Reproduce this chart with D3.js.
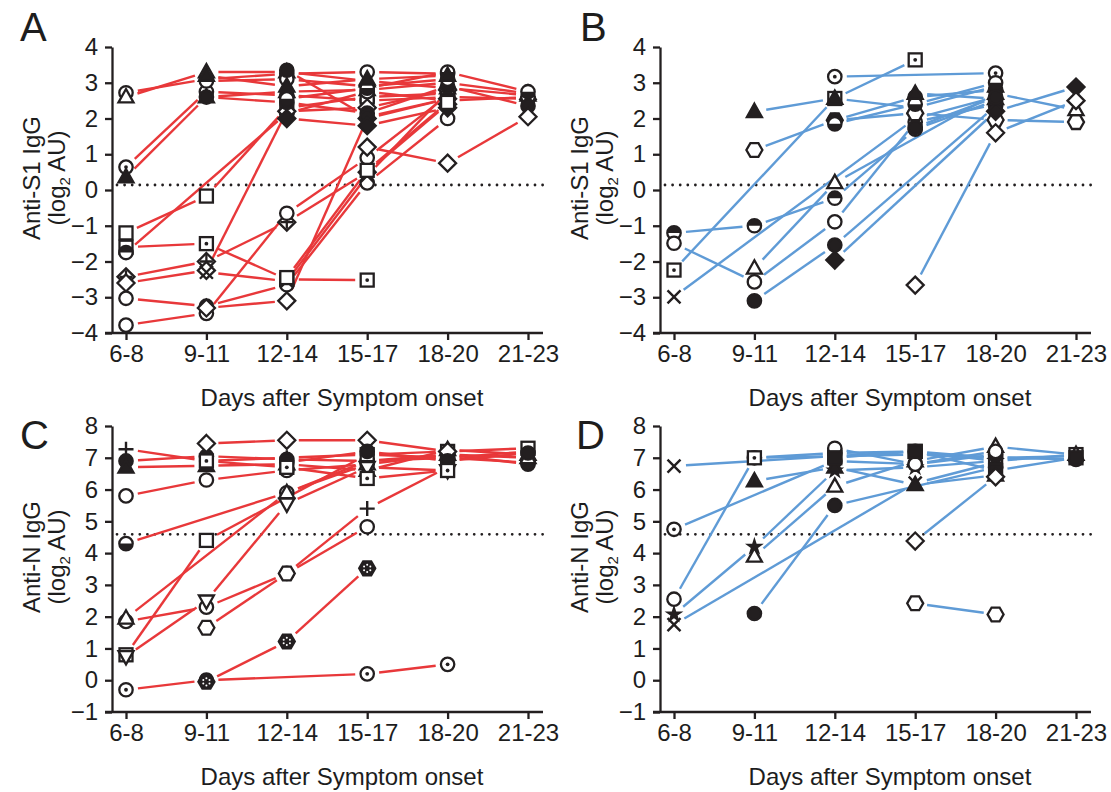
<!DOCTYPE html>
<html>
<head>
<meta charset="utf-8">
<script src="https://cdn.jsdelivr.net/npm/d3@7"></script>
<style>
  body { margin: 0; background: #fff; }
  svg text { font-family: "Liberation Sans", Arial, sans-serif; fill: #1d1d1d; }
</style>
</head>
<body>
<svg id="fig" width="1111" height="792"></svg>
<script>
/* categories and ticks */
const days = ["6-8", "9-11", "12-14", "15-17", "18-20", "21-23"];
const s1_ticks = [-4, -3, -2, -1, 0, 1, 2, 3, 4];
const n_ticks = [-1, 0, 1, 2, 3, 4, 5, 6, 7, 8];
const s1_cutoff = 0.14;
const n_cutoff = 4.59;

/* panel A : anti-S1, one row per subject (null = not sampled) */
const a_markers = ["circle", "tri", "circleDot", "triF", "sq", "sqDot", "circleHalfT", "crossDia",
  "dia", "circle", "circle", "circleF", "circle", "x", "dia", "circleF", "diaF", "circleHalfB",
  "triF", "dia", "sq"];
const a_values = [
  [2.72, 3.1, 3.25, 3.3, 3.25, null],
  [2.6, 3.3, 3.3, 3.05, 2.85, 2.65],
  [0.64, 2.75, 2.65, 2.5, 2.6, 2.55],
  [0.36, 2.6, 2.75, 2.8, 3.0, 2.7],
  [-1.2, -0.17, 2.3, 2.6, 2.7, null],
  [-1.6, -1.5, -2.5, -2.52, null, null],
  [-1.75, null, 2.15, 2.75, 2.5, 2.6],
  [-2.43, -2.0, -0.9, 0.5, 2.4, null],
  [-2.6, -2.25, 2.2, 2.3, 2.8, null],
  [-3.03, -3.25, -2.65, 0.2, 2.0, null],
  [-3.78, -3.45, -0.65, 0.9, 2.65, null],
  [null, 2.6, 2.45, 2.15, 2.9, 2.35],
  [null, 3.05, 3.1, 2.9, 3.1, null],
  [null, -2.3, -2.55, 0.4, 2.75, null],
  [null, -3.3, -3.1, 2.0, 2.55, null],
  [null, null, 3.35, 2.05, 2.55, null],
  [null, null, 2.0, 1.8, 2.3, null],
  [null, null, 2.55, 2.85, 3.3, 2.75],
  [null, 3.2, 2.9, 3.1, 3.2, null],
  [null, null, null, 1.2, 0.75, 2.05],
  [null, null, -2.45, 0.55, 2.45, null]
];

/* panel B : anti-S1 */
const b_markers = ["circleHalfT", "sqDot", "circle", "x", "triF", "hex", "tri", "circleF", "circleDot",
  "circleF", "circleHalfB", "diaF", "dia", "triF", "circleF"];
const b_values = [
  [-1.2, -1.0, -0.23, 1.7, 2.5, null],
  [-2.24, null, 2.56, 3.64, null, null],
  [-1.49, -2.57, -0.89, 1.9, 2.4, null],
  [-2.99, null, null, 2.0, 2.6, null],
  [null, 2.19, 2.56, 2.3, 2.9, null],
  [null, 1.12, 1.95, 2.15, 1.96, 1.9],
  [null, -2.19, 0.2, null, 2.7, 2.24],
  [null, -3.1, -1.54, null, 2.35, null],
  [null, null, 3.17, null, 3.27, null],
  [null, null, 1.95, 2.6, 2.8, null],
  [null, null, 1.85, 2.4, 3.0, null],
  [null, null, -1.96, null, 2.2, 2.88],
  [null, null, null, -2.66, 1.6, 2.5],
  [null, null, null, 2.7, 2.55, null],
  [null, null, null, 1.75, 2.6, null]
];

/* panel C : anti-N */
const c_markers = ["plus", "circleF", "triF", "circle", "circleHalfB", "plus", "circle", "tri", "sq",
  "triD", "circleDot", "hexAst", "hex", "dia", "circleF", "sqDot"];
const c_values = [
  [7.27, 6.9, 7.0, 7.1, 7.0, 7.2],
  [6.9, 7.05, 6.95, 6.9, 7.1, 6.8],
  [6.7, 6.75, 6.8, 6.6, 7.25, 7.1],
  [5.8, 6.3, 6.6, 6.8, null, null],
  [4.3, null, 5.9, 6.9, 7.0, 6.85],
  [null, null, 3.36, 5.4, 6.7, null],
  [1.85, 2.3, 3.36, 4.83, null, null],
  [1.95, null, 5.9, 6.8, 7.1, 7.0],
  [0.8, 4.4, null, 7.1, 7.2, 7.3],
  [0.75, 2.5, 5.55, 6.7, 6.6, null],
  [-0.3, 0.0, null, 0.2, 0.5, null],
  [null, -0.05, 1.22, 3.52, null, null],
  [null, 1.65, 3.36, null, null, null],
  [null, 7.45, 7.55, 7.55, 7.2, null],
  [null, null, 6.85, 7.2, 6.9, 7.15],
  [null, 6.9, 6.7, 6.35, 6.6, null]
];

/* panel D : anti-N */
const d_markers = ["x", "circleDot", "circle", "sqDot", "star", "x", "triF", "tri", "circleF",
  "circle", "sqF", "dia", "hex"];
const d_values = [
  [6.74, null, 7.05, 7.1, 7.0, 7.05],
  [4.75, null, 6.9, 6.8, 7.1, null],
  [2.55, 7.0, 7.15, 7.2, 7.0, 6.95],
  [null, 7.0, 7.05, 7.2, 6.9, 7.1],
  [2.07, 4.2, 6.6, 6.7, 6.9, null],
  [1.75, null, null, 6.2, 6.85, null],
  [null, 6.27, 6.7, 6.15, 6.45, null],
  [null, 3.9, 6.1, 6.9, 7.35, 7.1],
  [null, 2.1, 5.5, null, 6.7, null],
  [null, null, 7.3, 6.8, 7.2, null],
  [null, null, 7.0, 7.2, 6.6, 7.0],
  [null, null, null, 4.38, 6.4, null],
  [null, null, null, 2.42, 2.07, null]
];

/* display parameters */
const red = "#e8383a",
  blue = "#5f9bd6",
  ink = "#231f20",
  font_size = 24,
  sw = 2.3, // marker outline
  gap = 12; // lines stop short of the markers

const svg = d3.select("#fig");

const panels = [
  { letter: "A", lx: 20, ly: 41, left: 112, top: 47, bottom: 333, markers: a_markers, values: a_values,
    color: red, ticks: s1_ticks, cutoff: s1_cutoff, title: "Anti-S1 IgG" },
  { letter: "B", lx: 580, ly: 41, left: 660, top: 47, bottom: 333, markers: b_markers, values: b_values,
    color: blue, ticks: s1_ticks, cutoff: s1_cutoff, title: "Anti-S1 IgG" },
  { letter: "C", lx: 20, ly: 449, left: 112, top: 426, bottom: 712, markers: c_markers, values: c_values,
    color: red, ticks: n_ticks, cutoff: n_cutoff, title: "Anti-N IgG" },
  { letter: "D", lx: 576, ly: 449, left: 660, top: 426, bottom: 712, markers: d_markers, values: d_values,
    color: blue, ticks: n_ticks, cutoff: n_cutoff, title: "Anti-N IgG" }
];

function draw_marker(g, type, cx, cy) {
  let m = g.append("g").attr("transform", "translate(" + cx + "," + cy + ")");
  const open = el => el.attr("fill", "#fff").attr("stroke", ink).attr("stroke-width", sw);
  const full = el => el.attr("fill", ink).attr("stroke", ink).attr("stroke-width", sw);
  const dot = () => m.append("circle").attr("r", 1.9).attr("fill", ink);
  const hex = "M8,0L4,6.9L-4,6.9L-8,0L-4,-6.9L4,-6.9Z";
  const r = 6.7;

  if (type === "circle") open(m.append("circle").attr("r", r));
  else if (type === "circleF") full(m.append("circle").attr("r", r));
  else if (type === "circleDot") { open(m.append("circle").attr("r", r)); dot(); }
  else if (type === "circleHalfT" || type === "circleHalfB") {
    open(m.append("circle").attr("r", r));
    m.append("path")
      .attr("d", type === "circleHalfT" ? "M-6.7,0A6.7,6.7 0 0,1 6.7,0Z" : "M-6.7,0A6.7,6.7 0 0,0 6.7,0Z")
      .attr("fill", ink);
  }
  else if (type === "tri") open(m.append("path").attr("d", "M0,-8L7.5,5.3L-7.5,5.3Z"));
  else if (type === "triF") full(m.append("path").attr("d", "M0,-8L7.5,5.3L-7.5,5.3Z"));
  else if (type === "triD") open(m.append("path").attr("d", "M0,8L7.5,-5.3L-7.5,-5.3Z"));
  else if (type === "sq") open(m.append("rect").attr("x", -6.5).attr("y", -6.5).attr("width", 13).attr("height", 13));
  else if (type === "sqF") full(m.append("rect").attr("x", -6.5).attr("y", -6.5).attr("width", 13).attr("height", 13));
  else if (type === "sqDot") {
    open(m.append("rect").attr("x", -6.5).attr("y", -6.5).attr("width", 13).attr("height", 13));
    dot();
  }
  else if (type === "dia") open(m.append("path").attr("d", "M0,-8.5L8.5,0L0,8.5L-8.5,0Z"));
  else if (type === "diaF") full(m.append("path").attr("d", "M0,-8.5L8.5,0L0,8.5L-8.5,0Z"));
  else if (type === "crossDia") {
    open(m.append("path").attr("d", "M0,-8.5L8.5,0L0,8.5L-8.5,0Z"));
    m.append("path").attr("d", "M0,-6.5V6.5M-6.5,0H6.5").attr("stroke", ink).attr("stroke-width", sw);
  }
  else if (type === "hex") open(m.append("path").attr("d", hex));
  else if (type === "hexAst") {
    full(m.append("path").attr("d", hex));
    d3.range(6).forEach(i => {
      let a = (i * Math.PI) / 3 + Math.PI / 6;
      m.append("circle").attr("cx", 3.6 * Math.cos(a)).attr("cy", 3.6 * Math.sin(a))
        .attr("r", 1).attr("fill", "#fff");
    });
  }
  else if (type === "x") m.append("path").attr("d", "M-6.5,-6.5L6.5,6.5M-6.5,6.5L6.5,-6.5").attr("stroke", ink).attr("stroke-width", 2.4);
  else if (type === "plus") m.append("path").attr("d", "M0,-7.5V7.5M-7.5,0H7.5").attr("stroke", ink).attr("stroke-width", 2.4);
  else if (type === "star") m.append("path").attr("d", d3.symbol(d3.symbolStar, 110)()).attr("fill", ink);
}

function draw_panel(p) {
  let x = d3.scalePoint().domain(days).range([p.left + 14, p.left + 416]),
    y = d3.scaleLinear().domain(d3.extent(p.ticks)).range([p.bottom, p.top]);

  let g = svg.append("g");

  /* cut-off line */
  g.append("line")
    .attr("x1", p.left + 5).attr("x2", p.left + 431)
    .attr("y1", y(p.cutoff)).attr("y2", y(p.cutoff))
    .attr("stroke", ink).attr("stroke-width", 2.8)
    .attr("stroke-linecap", "round").attr("stroke-dasharray", "0 7.6");

  /* subject lines, shortened at both ends */
  p.values.forEach(row => {
    let pts = row.map((v, i) => (v === null ? null : [x(days[i]), y(v)])).filter(d => d);
    for (let k = 1; k < pts.length; k++) {
      let [x1, y1] = pts[k - 1], [x2, y2] = pts[k];
      let len = Math.hypot(x2 - x1, y2 - y1);
      if (len <= 2 * gap + 2) continue;
      let ux = (x2 - x1) / len, uy = (y2 - y1) / len;
      g.append("line")
        .attr("x1", x1 + ux * gap).attr("y1", y1 + uy * gap)
        .attr("x2", x2 - ux * gap).attr("y2", y2 - uy * gap)
        .attr("stroke", p.color).attr("stroke-width", 2.4);
    }
  });

  /* markers */
  p.values.forEach((row, j) => {
    row.forEach((v, i) => {
      if (v !== null) draw_marker(g, p.markers[j], x(days[i]), y(v));
    });
  });

  /* axes */
  let y_axis = svg.append("g")
    .attr("transform", "translate(" + p.left + ",0)")
    .call(d3.axisLeft(y).tickValues(p.ticks).tickSize(7).tickPadding(7).tickSizeOuter(0));
  y_axis.selectAll("path, line").attr("stroke", ink).attr("stroke-width", 2.3);
  y_axis.selectAll("text").attr("font-size", font_size).attr("font-family", null).attr("fill", "#1d1d1d");

  svg.append("line")
    .attr("x1", p.left - 7).attr("x2", p.left + 431)
    .attr("y1", p.bottom).attr("y2", p.bottom)
    .attr("stroke", ink).attr("stroke-width", 2.3);

  let x_axis = svg.append("g")
    .attr("transform", "translate(0," + p.bottom + ")")
    .call(d3.axisBottom(x).tickSize(7).tickPadding(5));
  x_axis.select(".domain").remove();
  x_axis.selectAll("line").attr("stroke", ink).attr("stroke-width", 2.3);
  x_axis.selectAll("text").attr("font-size", font_size).attr("font-family", null).attr("fill", "#1d1d1d");

  /* titles */
  svg.append("text")
    .attr("x", p.left + 230).attr("y", p.bottom + 73)
    .attr("text-anchor", "middle").attr("font-size", font_size)
    .text("Days after Symptom onset");

  let mid = (p.top + p.bottom) / 2 - 12;
  svg.append("text")
    .attr("transform", "translate(" + (p.left - 72) + "," + mid + ") rotate(-90)")
    .attr("text-anchor", "middle").attr("font-size", font_size)
    .text(p.title);
  let t2 = svg.append("text")
    .attr("transform", "translate(" + (p.left - 47) + "," + mid + ") rotate(-90)")
    .attr("text-anchor", "middle").attr("font-size", font_size);
  t2.append("tspan").text("(log");
  t2.append("tspan").attr("font-size", 15).attr("dy", 5).text("2");
  t2.append("tspan").attr("dy", -5).text(" AU)");

  svg.append("text")
    .attr("x", p.lx).attr("y", p.ly)
    .attr("font-size", 40)
    .text(p.letter);
}

panels.forEach(draw_panel);
</script>
</body>
</html>
